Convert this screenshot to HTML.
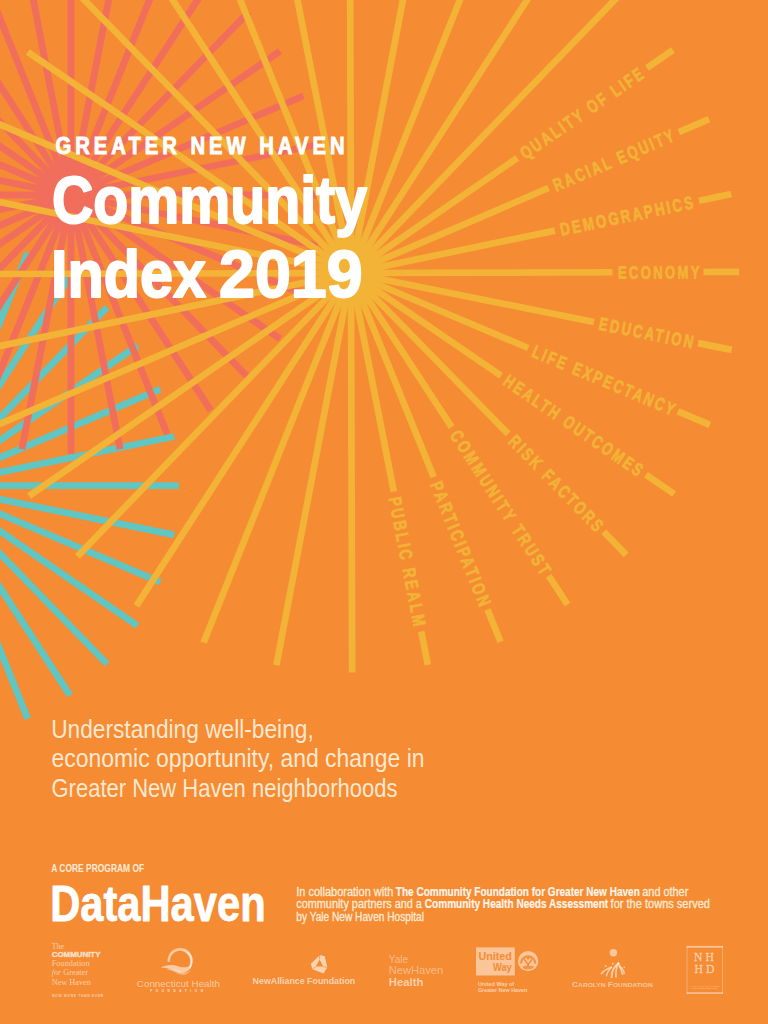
<!DOCTYPE html>
<html lang="en"><head><meta charset="utf-8"><title>Greater New Haven Community Index 2019</title>
<style>
html,body{margin:0;padding:0;background:#F58B33;}
body{width:768px;height:1024px;overflow:hidden;}
svg{display:block;}
text{font-family:"Liberation Sans",sans-serif;}
.lab{font-weight:700;font-size:18px;fill:#F2B336;letter-spacing:3.2px;stroke:#F2B336;stroke-width:0.75px;}
.t1{font-weight:700;font-size:23px;fill:#fff;letter-spacing:4.5px;stroke:#fff;stroke-width:0.9px;}
.t2{font-weight:700;font-size:67.5px;fill:#fff;stroke:#fff;stroke-width:2px;stroke-linejoin:round;}
.sub{font-size:25px;fill:#FDE8D0;}
.core{font-weight:700;font-size:10.8px;fill:#FDEBD8;}
.dh{font-weight:700;font-size:49.5px;fill:#fff;stroke:#fff;stroke-width:.8px;stroke-linejoin:round;}
.col{font-size:12.2px;fill:#FDE8D2;stroke:#FDE8D2;stroke-width:.35px;}
.col.b{font-weight:700;fill:#FFF4E8;stroke:#FFF4E8;stroke-width:.2px;}
.sf{font-family:"Liberation Serif",serif;font-size:8.4px;}
.bk{font-weight:700;font-size:7.3px;stroke:#fff;stroke-width:.5px;stroke-opacity:.58;}
.tag{font-weight:700;font-size:3.2px;letter-spacing:.5px;}
.ch{font-size:9.3px;}
.chf{font-size:2.6px;font-weight:700;letter-spacing:3px;fill-opacity:.75;}
.na{font-weight:700;font-size:9.5px;}
.yl{font-size:11.4px;}
.yl.b{font-weight:700;}
.uw{font-weight:700;font-size:11.6px;fill:#F58B33;}
.uwt{font-weight:700;font-size:5.2px;}
.cf{font-weight:700;font-size:7px;}
.cf .sc{font-size:5.6px;}
.nh{font-family:"Liberation Serif",serif;font-size:13px;letter-spacing:3.5px;stroke:#fff;stroke-width:.3px;stroke-opacity:.5;}
.nht{font-family:"Liberation Serif",serif;font-size:2.6px;}
</style></head><body>
<svg width="768" height="1024" viewBox="0 0 768 1024">
<rect width="768" height="1024" fill="#F58B33"/>
<g stroke-linecap="butt">
<line x1="-66.0" y1="485.7" x2="-18.2" y2="238.4" stroke="#5FC6C4" stroke-width="6.8"/>
<line x1="-66.0" y1="485.7" x2="27.7" y2="252.7" stroke="#5FC6C4" stroke-width="6.8"/>
<line x1="-66.0" y1="485.7" x2="70.0" y2="276.0" stroke="#5FC6C4" stroke-width="6.8"/>
<line x1="-66.0" y1="485.7" x2="107.1" y2="307.4" stroke="#5FC6C4" stroke-width="6.8"/>
<line x1="-66.0" y1="485.7" x2="137.5" y2="345.6" stroke="#5FC6C4" stroke-width="6.8"/>
<line x1="-66.0" y1="485.7" x2="160.2" y2="389.2" stroke="#5FC6C4" stroke-width="6.8"/>
<line x1="-66.0" y1="485.7" x2="174.1" y2="436.5" stroke="#5FC6C4" stroke-width="6.8"/>
<line x1="-66.0" y1="485.7" x2="178.8" y2="485.7" stroke="#5FC6C4" stroke-width="6.8"/>
<line x1="-66.0" y1="485.7" x2="174.1" y2="534.9" stroke="#5FC6C4" stroke-width="6.8"/>
<line x1="-66.0" y1="485.7" x2="160.2" y2="582.2" stroke="#5FC6C4" stroke-width="6.8"/>
<line x1="-66.0" y1="485.7" x2="137.5" y2="625.8" stroke="#5FC6C4" stroke-width="6.8"/>
<line x1="-66.0" y1="485.7" x2="107.1" y2="664.0" stroke="#5FC6C4" stroke-width="6.8"/>
<line x1="-66.0" y1="485.7" x2="70.0" y2="695.4" stroke="#5FC6C4" stroke-width="6.8"/>
<line x1="-66.0" y1="485.7" x2="27.7" y2="718.7" stroke="#5FC6C4" stroke-width="6.8"/>
<line x1="-66.0" y1="485.7" x2="-18.2" y2="733.0" stroke="#5FC6C4" stroke-width="6.8"/>
<line x1="71.0" y1="195.0" x2="322.5" y2="195.0" stroke="#F16E5C" stroke-width="6.8"/>
<line x1="71.0" y1="195.0" x2="317.7" y2="245.5" stroke="#F16E5C" stroke-width="6.8"/>
<line x1="71.0" y1="195.0" x2="303.4" y2="294.1" stroke="#F16E5C" stroke-width="6.8"/>
<line x1="71.0" y1="195.0" x2="280.1" y2="338.9" stroke="#F16E5C" stroke-width="6.8"/>
<line x1="71.0" y1="195.0" x2="248.8" y2="378.2" stroke="#F16E5C" stroke-width="6.8"/>
<line x1="71.0" y1="195.0" x2="210.7" y2="410.4" stroke="#F16E5C" stroke-width="6.8"/>
<line x1="71.0" y1="195.0" x2="167.2" y2="434.3" stroke="#F16E5C" stroke-width="6.8"/>
<line x1="71.0" y1="195.0" x2="120.1" y2="449.1" stroke="#F16E5C" stroke-width="6.8"/>
<line x1="71.0" y1="195.0" x2="71.0" y2="454.0" stroke="#F16E5C" stroke-width="6.8"/>
<line x1="71.0" y1="195.0" x2="21.9" y2="449.1" stroke="#F16E5C" stroke-width="6.8"/>
<line x1="71.0" y1="195.0" x2="-25.2" y2="434.3" stroke="#F16E5C" stroke-width="6.8"/>
<line x1="71.0" y1="195.0" x2="-68.7" y2="410.4" stroke="#F16E5C" stroke-width="6.8"/>
<line x1="71.0" y1="195.0" x2="-106.8" y2="378.2" stroke="#F16E5C" stroke-width="6.8"/>
<line x1="71.0" y1="195.0" x2="-138.1" y2="338.9" stroke="#F16E5C" stroke-width="6.8"/>
<line x1="71.0" y1="195.0" x2="-161.4" y2="294.1" stroke="#F16E5C" stroke-width="6.8"/>
<line x1="71.0" y1="195.0" x2="-175.7" y2="245.5" stroke="#F16E5C" stroke-width="6.8"/>
<line x1="71.0" y1="195.0" x2="-180.5" y2="195.0" stroke="#F16E5C" stroke-width="6.8"/>
<line x1="71.0" y1="195.0" x2="-175.7" y2="144.5" stroke="#F16E5C" stroke-width="6.8"/>
<line x1="71.0" y1="195.0" x2="-161.4" y2="95.9" stroke="#F16E5C" stroke-width="6.8"/>
<line x1="71.0" y1="195.0" x2="-138.1" y2="51.1" stroke="#F16E5C" stroke-width="6.8"/>
<line x1="71.0" y1="195.0" x2="-106.8" y2="11.8" stroke="#F16E5C" stroke-width="6.8"/>
<line x1="71.0" y1="195.0" x2="-68.7" y2="-20.4" stroke="#F16E5C" stroke-width="6.8"/>
<line x1="71.0" y1="195.0" x2="-25.2" y2="-44.3" stroke="#F16E5C" stroke-width="6.8"/>
<line x1="71.0" y1="195.0" x2="21.9" y2="-59.1" stroke="#F16E5C" stroke-width="6.8"/>
<line x1="71.0" y1="195.0" x2="71.0" y2="-64.0" stroke="#F16E5C" stroke-width="6.8"/>
<line x1="71.0" y1="195.0" x2="120.1" y2="-59.1" stroke="#F16E5C" stroke-width="6.8"/>
<line x1="71.0" y1="195.0" x2="167.2" y2="-44.3" stroke="#F16E5C" stroke-width="6.8"/>
<line x1="71.0" y1="195.0" x2="210.7" y2="-20.4" stroke="#F16E5C" stroke-width="6.8"/>
<line x1="71.0" y1="195.0" x2="248.8" y2="11.8" stroke="#F16E5C" stroke-width="6.8"/>
<line x1="71.0" y1="195.0" x2="280.1" y2="51.1" stroke="#F16E5C" stroke-width="6.8"/>
<line x1="71.0" y1="195.0" x2="303.4" y2="95.9" stroke="#F16E5C" stroke-width="6.8"/>
<line x1="71.0" y1="195.0" x2="317.7" y2="144.5" stroke="#F16E5C" stroke-width="6.8"/>
<g transform="rotate(-0.165 351.0 273.0)">
<line x1="351.0" y1="273.0" x2="393.2" y2="491.7" stroke="#F2B336" stroke-width="6.7"/>
<line x1="420.2" y1="631.5" x2="426.7" y2="665.0" stroke="#F2B336" stroke-width="6.7"/>
<line x1="351.0" y1="273.0" x2="433.1" y2="477.3" stroke="#F2B336" stroke-width="6.7"/>
<line x1="486.5" y1="610.0" x2="499.5" y2="642.2" stroke="#F2B336" stroke-width="6.7"/>
<line x1="351.0" y1="273.0" x2="451.2" y2="427.4" stroke="#F2B336" stroke-width="6.7"/>
<line x1="547.8" y1="576.3" x2="566.6" y2="605.3" stroke="#F2B336" stroke-width="6.7"/>
<line x1="351.0" y1="273.0" x2="507.6" y2="434.3" stroke="#F2B336" stroke-width="6.7"/>
<line x1="603.0" y1="532.5" x2="625.4" y2="555.6" stroke="#F2B336" stroke-width="6.7"/>
<line x1="351.0" y1="273.0" x2="500.8" y2="376.1" stroke="#F2B336" stroke-width="6.7"/>
<line x1="645.4" y1="475.6" x2="673.6" y2="495.0" stroke="#F2B336" stroke-width="6.7"/>
<line x1="351.0" y1="273.0" x2="528.0" y2="348.5" stroke="#F2B336" stroke-width="6.7"/>
<line x1="677.5" y1="412.3" x2="709.5" y2="425.9" stroke="#F2B336" stroke-width="6.7"/>
<line x1="351.0" y1="273.0" x2="593.8" y2="322.7" stroke="#F2B336" stroke-width="6.7"/>
<line x1="697.9" y1="344.1" x2="731.5" y2="351.0" stroke="#F2B336" stroke-width="6.7"/>
<line x1="351.0" y1="273.0" x2="612.5" y2="273.0" stroke="#F2B336" stroke-width="6.7"/>
<line x1="703.5" y1="273.0" x2="739.0" y2="273.0" stroke="#F2B336" stroke-width="6.7"/>
<line x1="351.0" y1="273.0" x2="555.0" y2="231.2" stroke="#F2B336" stroke-width="6.7"/>
<line x1="699.1" y1="201.7" x2="731.5" y2="195.0" stroke="#F2B336" stroke-width="6.7"/>
<line x1="351.0" y1="273.0" x2="548.8" y2="188.6" stroke="#F2B336" stroke-width="6.7"/>
<line x1="679.2" y1="133.0" x2="709.5" y2="120.1" stroke="#F2B336" stroke-width="6.7"/>
<line x1="351.0" y1="273.0" x2="517.6" y2="158.4" stroke="#F2B336" stroke-width="6.7"/>
<line x1="647.5" y1="68.9" x2="673.6" y2="51.0" stroke="#F2B336" stroke-width="6.7"/>
<line x1="351.0" y1="273.0" x2="625.4" y2="-9.6" stroke="#F2B336" stroke-width="6.7"/>
<line x1="351.0" y1="273.0" x2="566.6" y2="-59.3" stroke="#F2B336" stroke-width="6.7"/>
<line x1="351.0" y1="273.0" x2="499.5" y2="-96.2" stroke="#F2B336" stroke-width="6.7"/>
<line x1="351.0" y1="273.0" x2="426.7" y2="-119.0" stroke="#F2B336" stroke-width="6.7"/>
<line x1="351.0" y1="273.0" x2="351.0" y2="-126.6" stroke="#F2B336" stroke-width="6.7"/>
<line x1="351.0" y1="273.0" x2="275.3" y2="-119.0" stroke="#F2B336" stroke-width="6.7"/>
<line x1="351.0" y1="273.0" x2="202.5" y2="-96.2" stroke="#F2B336" stroke-width="6.7"/>
<line x1="351.0" y1="273.0" x2="135.4" y2="-59.3" stroke="#F2B336" stroke-width="6.7"/>
<line x1="351.0" y1="273.0" x2="76.6" y2="-9.6" stroke="#F2B336" stroke-width="6.7"/>
<line x1="351.0" y1="273.0" x2="28.4" y2="51.0" stroke="#F2B336" stroke-width="6.7"/>
<line x1="351.0" y1="273.0" x2="-7.5" y2="120.1" stroke="#F2B336" stroke-width="6.7"/>
<line x1="351.0" y1="273.0" x2="-29.5" y2="195.0" stroke="#F2B336" stroke-width="6.7"/>
<line x1="351.0" y1="273.0" x2="-37.0" y2="273.0" stroke="#F2B336" stroke-width="6.7"/>
<line x1="351.0" y1="273.0" x2="-29.5" y2="351.0" stroke="#F2B336" stroke-width="6.7"/>
<line x1="351.0" y1="273.0" x2="-7.5" y2="425.9" stroke="#F2B336" stroke-width="6.7"/>
<line x1="351.0" y1="273.0" x2="28.4" y2="495.0" stroke="#F2B336" stroke-width="6.7"/>
<line x1="351.0" y1="273.0" x2="76.6" y2="555.6" stroke="#F2B336" stroke-width="6.7"/>
<line x1="351.0" y1="273.0" x2="135.4" y2="605.3" stroke="#F2B336" stroke-width="6.7"/>
<line x1="351.0" y1="273.0" x2="202.5" y2="642.2" stroke="#F2B336" stroke-width="6.7"/>
<line x1="351.0" y1="273.0" x2="275.3" y2="665.0" stroke="#F2B336" stroke-width="6.7"/>
<line x1="351.0" y1="273.0" x2="351.0" y2="672.6" stroke="#F2B336" stroke-width="6.7"/>
</g>
</g>
<g class="labs" transform="rotate(-0.165 351.0 273.0)">
<text transform="translate(351.0,273.0) rotate(79.07)" x="228.1909293168449" y="6.5" textLength="133.7" lengthAdjust="spacingAndGlyphs" class="lab">PUBLIC REALM</text>
<text transform="translate(351.0,273.0) rotate(68.09)" x="225.65505899252008" y="6.5" textLength="135.2" lengthAdjust="spacingAndGlyphs" class="lab">PARTICIPATION</text>
<text transform="translate(351.0,273.0) rotate(57.03)" x="189.52309637651464" y="6.5" textLength="170.9" lengthAdjust="spacingAndGlyphs" class="lab">COMMUNITY TRUST</text>
<text transform="translate(351.0,273.0) rotate(45.85)" x="230.3777445635739" y="6.5" textLength="128.9" lengthAdjust="spacingAndGlyphs" class="lab">RISK FACTORS</text>
<text transform="translate(351.0,273.0) rotate(34.54)" x="187.30827813936307" y="6.5" textLength="166.6" lengthAdjust="spacingAndGlyphs" class="lab">HEALTH OUTCOMES</text>
<text transform="translate(351.0,273.0) rotate(23.11)" x="197.88762953994728" y="6.5" textLength="155.6" lengthAdjust="spacingAndGlyphs" class="lab">LIFE EXPECTANCY</text>
<text transform="translate(351.0,273.0) rotate(11.58)" x="253.2927561491659" y="6.5" textLength="98.2" lengthAdjust="spacingAndGlyphs" class="lab">EDUCATION</text>
<text transform="translate(351.0,273.0) rotate(0.00)" x="267.00191203889887" y="6.5" textLength="83.7" lengthAdjust="spacingAndGlyphs" class="lab">ECONOMY</text>
<text transform="translate(351.0,273.0) rotate(-11.58)" x="213.7786594925174" y="6.5" textLength="137.6" lengthAdjust="spacingAndGlyphs" class="lab">DEMOGRAPHICS</text>
<text transform="translate(351.0,273.0) rotate(-23.11)" x="220.58137994721903" y="6.5" textLength="132.3" lengthAdjust="spacingAndGlyphs" class="lab">RACIAL EQUITY</text>
<text transform="translate(351.0,273.0) rotate(-34.54)" x="207.70039564748632" y="6.5" textLength="147.9" lengthAdjust="spacingAndGlyphs" class="lab">QUALITY OF LIFE</text>
</g>

<text x="55.5" y="154" textLength="293" lengthAdjust="spacingAndGlyphs" class="t1">GREATER NEW HAVEN</text>
<text x="52" y="223" textLength="315" lengthAdjust="spacingAndGlyphs" class="t2">Community</text>
<text x="51" y="296.5" textLength="155" lengthAdjust="spacingAndGlyphs" class="t2">Index</text>
<text x="219" y="296.5" textLength="143.6" lengthAdjust="spacingAndGlyphs" class="t2">2019</text>
<text x="51.2" y="738.1" textLength="262.5" lengthAdjust="spacingAndGlyphs" class="sub">Understanding well-being,</text>
<text x="51.5" y="767.2" textLength="373" lengthAdjust="spacingAndGlyphs" class="sub">economic opportunity, and change in</text>
<text x="51.5" y="796.6" textLength="346" lengthAdjust="spacingAndGlyphs" class="sub">Greater New Haven neighborhoods</text>
<text x="51.2" y="872.3" textLength="93" lengthAdjust="spacingAndGlyphs" class="core">A CORE PROGRAM OF</text>
<text x="50.2" y="920.6" textLength="215.4" lengthAdjust="spacingAndGlyphs" class="dh">DataHaven</text>
<text x="296.3" y="896" textLength="97" lengthAdjust="spacingAndGlyphs" class="col">In collaboration with</text>
<text x="395.8" y="896" textLength="244" lengthAdjust="spacingAndGlyphs" class="col b">The Community Foundation for Greater New Haven</text>
<text x="642.3" y="896" textLength="46" lengthAdjust="spacingAndGlyphs" class="col">and other</text>
<text x="296.3" y="908.3" textLength="125.6" lengthAdjust="spacingAndGlyphs" class="col">community partners and a</text>
<text x="424.8" y="908.3" textLength="183.4" lengthAdjust="spacingAndGlyphs" class="col b">Community Health Needs Assessment</text>
<text x="610.6" y="908.3" textLength="99.4" lengthAdjust="spacingAndGlyphs" class="col">for the towns served</text>
<text x="296.3" y="920.7" textLength="127.6" lengthAdjust="spacingAndGlyphs" class="col">by Yale New Haven Hospital</text>

<g class="lg" fill="#fff">
<!-- The Community Foundation for Greater New Haven -->
<g fill-opacity=".58">
<text x="51.7" y="948.5" class="sf" textLength="12.3" lengthAdjust="spacingAndGlyphs">The</text>
<text x="51.7" y="957" class="bk" textLength="48.8" lengthAdjust="spacingAndGlyphs">COMMUNITY</text>
<text x="51.7" y="966" class="sf" textLength="37.9" lengthAdjust="spacingAndGlyphs">Foundation</text>
<text x="51.7" y="975.4" class="sf" textLength="36.3" lengthAdjust="spacingAndGlyphs"><tspan font-style="italic">for</tspan> Greater</text>
<text x="51.7" y="985.1" class="sf" textLength="39.1" lengthAdjust="spacingAndGlyphs">New Haven</text>
<text x="52" y="997.3" class="tag" textLength="51.7" lengthAdjust="spacingAndGlyphs">NOW MORE THAN EVER</text>
</g>
<!-- Connecticut Health Foundation -->
<g fill-opacity=".55">
<path d="M167.6,961.8 A12.6,12.6 0 1 1 189.6,968.9 L188.4,967.4 A10.2,10.6 0 1 0 169.8,961.9 Z"/>
<path d="M160.5,967.9 C166,964.6 172,964.3 178,966.3 C183.5,968.2 188,967.6 191.8,964.2 C191.6,969.4 186,973.6 179.5,972.4 C173,970.3 168,967.4 160.5,967.9 Z"/>
<path d="M165.5,969.6 C171,968.2 176,969.6 180.5,971.6 C184.5,973.2 188,972.6 190.6,970.2 C188.6,974.4 183.5,975.6 179,974 C174.5,972 170.5,969.8 165.5,969.6 Z" fill-opacity=".4"/>
<path d="M188.2,951.6 A12.6,12.6 0 0 1 190.8,967.4 L189.6,966.6 A10.8,10.8 0 0 0 186.6,953 Z" fill-opacity=".45"/>
<text x="136.8" y="987.2" class="ch" textLength="83.2" lengthAdjust="spacingAndGlyphs">Connecticut Health</text>
<text x="150.3" y="991.9" class="chf" textLength="56.2" lengthAdjust="spacingAndGlyphs">FOUNDATION</text>
</g>
<!-- NewAlliance Foundation -->
<g fill-opacity=".62">
<path fill-rule="evenodd" d="M318.6,956.3 L320.7,955.3 L324.8,956.3 L327.3,967.6 L323.6,973.4 L312.3,969.3 L310.9,963.8 Z M319.6,959.4 L315.8,966.6 L323.3,966.6 Z"/><path d="M319.6,959.4 L319.6,955.8 M315.8,966.6 L312.3,969.3 M323.3,966.6 L327.3,967.6" stroke="#F58B33" stroke-width=".7" fill="none"/>
<text x="252.6" y="984.2" class="na" textLength="102.6" lengthAdjust="spacingAndGlyphs">NewAlliance Foundation</text>
</g>
<!-- Yale NewHaven Health -->
<text x="388.8" y="962.5" class="yl" fill-opacity=".42" textLength="19.2" lengthAdjust="spacingAndGlyphs">Yale</text>
<text x="388.8" y="974.4" class="yl" fill-opacity=".42" textLength="54.3" lengthAdjust="spacingAndGlyphs">NewHaven</text>
<text x="388.8" y="985.7" class="yl b" fill-opacity=".6" textLength="34.5" lengthAdjust="spacingAndGlyphs">Health</text>
<!-- United Way -->
<g>
<rect x="476" y="947.4" width="38.8" height="28.1" fill-opacity=".5"/>
<text x="511.8" y="959.5" class="uw" text-anchor="end" textLength="33.3" lengthAdjust="spacingAndGlyphs">United</text>
<text x="511.8" y="970.8" class="uw" text-anchor="end" textLength="18.9" lengthAdjust="spacingAndGlyphs">Way</text>
<circle cx="528.1" cy="961.1" r="10.2" fill-opacity=".5"/>
<path d="M519.8,963.5 A8.3,8.3 0 0 1 536.4,963.5 L534.2,963.5 A6.1,6.1 0 0 0 522,963.5 Z" fill="#F58B33" fill-opacity=".9"/>
<circle cx="528.1" cy="958.3" r="1.3" fill="#F58B33"/>
<path d="M524.6,958.8 L528.1,963.2 L531.6,958.8 L532.6,959.8 L529,964.4 L529,966 L527.2,966 L527.2,964.4 L523.6,959.8 Z" fill="#F58B33"/>
<path d="M522.5,966.6 C525,965.6 531,965.6 534,966.4 L533,968.3 C530,969.6 526,969.6 523.4,968.4 Z" fill="#F58B33" fill-opacity=".85"/>
<text x="477.9" y="985.6" class="uwt" fill-opacity=".6" textLength="36.3" lengthAdjust="spacingAndGlyphs">United Way of</text>
<text x="477.9" y="991.8" class="uwt" fill-opacity=".6" textLength="49.5" lengthAdjust="spacingAndGlyphs">Greater New Haven</text>
</g>
<!-- Carolyn Foundation -->
<g fill-opacity=".52">
<circle cx="613.4" cy="952.8" r="3.7"/>
<g stroke="#fff" stroke-opacity=".55" fill="none" stroke-linecap="round">
<path d="M618.4,963.2 C614.5,966 611.8,970.5 611.6,977.3" stroke-width="2"/>
<path d="M618.4,963.2 C616.6,967 615.6,971.5 615.9,976.8" stroke-width="1.7"/>
<path d="M618.4,963.2 C620,966.5 621.3,970 622.6,974.3" stroke-width="1.7"/>
<path d="M611.3,967.2 C607,968.6 603.6,971 601.4,973.6" stroke-width="1.7"/>
<path d="M611.3,967.2 C608.6,970 607.2,972.6 606.4,975.8" stroke-width="1.5"/>
<path d="M619.4,966.6 C622,967.6 623.6,970 624.3,973.3" stroke-width="1.4"/>
</g>
<circle cx="605.6" cy="966" r="1"/><circle cx="612.8" cy="963.8" r="1"/><circle cx="624.2" cy="967.3" r=".9"/>
<text x="572.1" y="986.7" class="cf" textLength="80.6" lengthAdjust="spacingAndGlyphs">C<tspan class="sc">AROLYN</tspan> F<tspan class="sc">OUNDATION</tspan></text>
</g>
<!-- New Haven Health Department -->
<g fill-opacity=".5">
<rect x="686.7" y="945.9" width="36.2" height="1.8"/>
<rect x="686.7" y="992.3" width="36.2" height="1.5"/>
<rect x="686.7" y="945.9" width=".6" height="47.9"/>
<rect x="722.3" y="945.9" width=".6" height="47.9"/>
<text x="694" y="961" class="nh" textLength="23" lengthAdjust="spacingAndGlyphs">NH</text>
<text x="694.5" y="973" class="nh" textLength="23" lengthAdjust="spacingAndGlyphs">HD</text>
<text x="689.6" y="986.6" class="nht" textLength="30" lengthAdjust="spacingAndGlyphs">New Haven Health</text>
<text x="691.6" y="989.4" class="nht" textLength="26" lengthAdjust="spacingAndGlyphs">Department</text>
</g>
</g>

</svg>
</body></html>
